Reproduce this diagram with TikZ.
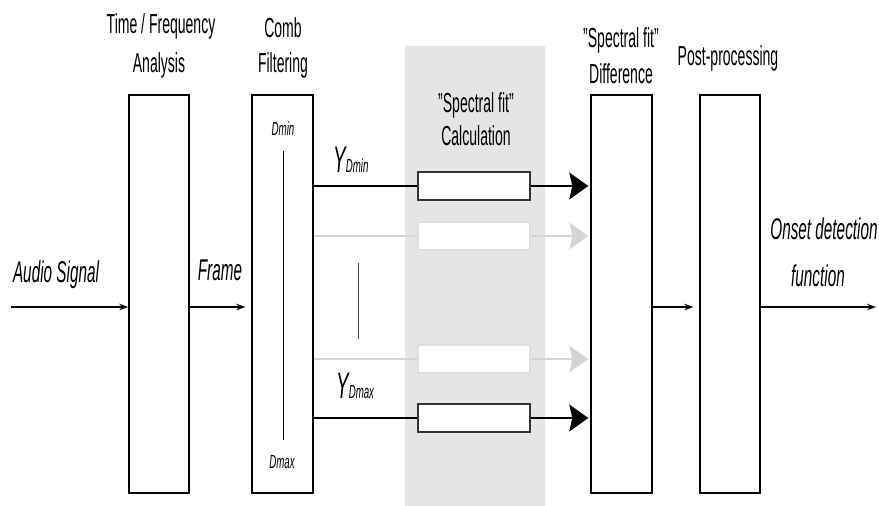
\documentclass[tikz,border=0pt]{standalone}
\usepackage{fontspec}
\setmainfont[FakeStretch=0.51,Ligatures=NoCommon]{Liberation Sans}
\usetikzlibrary{arrows.meta}
\definecolor{bandgray}{RGB}{229,229,229}
\definecolor{rowgray}{RGB}{212,212,212}
\definecolor{rowboxgray}{RGB}{222,222,222}
\newcommand{\sq}{\symbol{34}}
\tikzset{
  stage/.style={draw=black, line width=1.4pt, fill=white, minimum width=60pt, minimum height=398pt, inner sep=0pt},
  fitbox/.style={draw=black!80, line width=1.3pt, fill=white, minimum width=112pt, minimum height=28pt, inner sep=0pt},
  fitboxgray/.style={draw=rowboxgray, line width=1.3pt, fill=white, minimum width=112pt, minimum height=28pt, inner sep=0pt},
  title/.style={font=\fontsize{27.5}{30}\selectfont, anchor=base, inner sep=0pt},
  ital/.style={font=\fontsize{30}{32}\selectfont\itshape, anchor=base, inner sep=0pt},
  small/.style={font=\fontsize{19}{20}\selectfont\itshape, anchor=base, inner sep=0pt},
  flow/.style={line width=1.3pt, -{Stealth[length=9pt,width=6.5pt]}},
  bigflow/.style={line width=1.4pt, -{Stealth[length=19pt,width=27pt,inset=3pt]}},
  bigflowgray/.style={draw=rowgray, line width=1.4pt, -{Stealth[length=19pt,width=27pt,inset=3pt,fill=rowgray]}},
}
\begin{document}
\begin{tikzpicture}[x=1pt,y=-1pt]
\useasboundingbox (0,0) rectangle (879,506);
% grey band
\fill[bandgray] (405,46) rectangle (545,506);

% stages
\node[stage] (tf) at (159,294) {};
\node[stage, minimum width=61pt] (comb) at (282.5,294) {};
\node[stage, minimum width=61pt] (diff) at (621.5,294) {};
\node[stage] (post) at (730,294) {};

% titles
\node[title] (tf1) at (161,33) {Time / Frequency};
\node[title] (tf2) at (159,72) {Analysis};
\node[title] (cb1) at (283,37) {Comb};
\node[title] (cb2) at (283,72) {Filtering};
\node[title] (sc1) at (476,112) {\sq Spectral fit\sq};
\node[title] (sc2) at (476,145) {Calculation};
\node[title] (sd1) at (621,47) {\sq Spectral fit\sq};
\node[title] (sd2) at (621,83) {Difference};
\node[title] (pp) at (728,65) {Post-processing};

% inputs / outputs
\coordinate (in) at (11,307);
\coordinate (out) at (876,307);
\node[ital] (audio) at (56,282) {Audio Signal};
\node[ital] (frame) at (220,280) {Frame};
\node[ital] (onset1) at (824,239) {Onset detection};
\node[ital] (onset2) at (818,286) {function};

\draw[flow] (in) -- (tf.west |- in);
\draw[flow] (tf.east |- in) -- ([xshift=-6pt]comb.west |- in);
\draw[flow] (diff.east |- in) -- ([xshift=-6pt]post.west |- in);
\draw[flow] (post.east |- in) -- (out);

% comb internals
\node[small] (dmin) at (283,135) {Dmin};
\node[small] (dmax) at (282,468) {Dmax};
\draw[line width=1pt] (283,151) -- (283,440);

% rows
\node[fitbox] (r1) at (474,186) {};
\node[fitboxgray] (r2) at (474,236) {};
\node[fitboxgray] (r3) at (474,359) {};
\node[fitbox] (r4) at (474,418) {};

\draw[line width=1.3pt] (comb.east |- r1) -- (r1.west);
\draw[bigflow] (r1.east) -- ([xshift=-2pt]diff.west |- r1);
\draw[draw=rowgray, line width=1.3pt] (comb.east |- r2) -- (r2.west);
\draw[bigflowgray] (r2.east) -- ([xshift=-2pt]diff.west |- r2);
\draw[draw=rowgray, line width=1.3pt] (comb.east |- r3) -- (r3.west);
\draw[bigflowgray] (r3.east) -- ([xshift=-2pt]diff.west |- r3);
\draw[line width=1.3pt] (comb.east |- r4) -- (r4.west);
\draw[bigflow] (r4.east) -- ([xshift=-2pt]diff.west |- r4);

\draw[line width=1pt, black!75] (358,263) -- (358,339);

\node[anchor=base west, inner sep=0pt] (ymin) at (333,172) {{\fontsize{37}{37}\selectfont\itshape Y}{\fontsize{19}{20}\selectfont\itshape Dmin}};
\node[anchor=base west, inner sep=0pt] (ymax) at (336,398) {{\fontsize{37}{37}\selectfont\itshape Y}{\fontsize{19}{20}\selectfont\itshape Dmax}};
\end{tikzpicture}
\end{document}
